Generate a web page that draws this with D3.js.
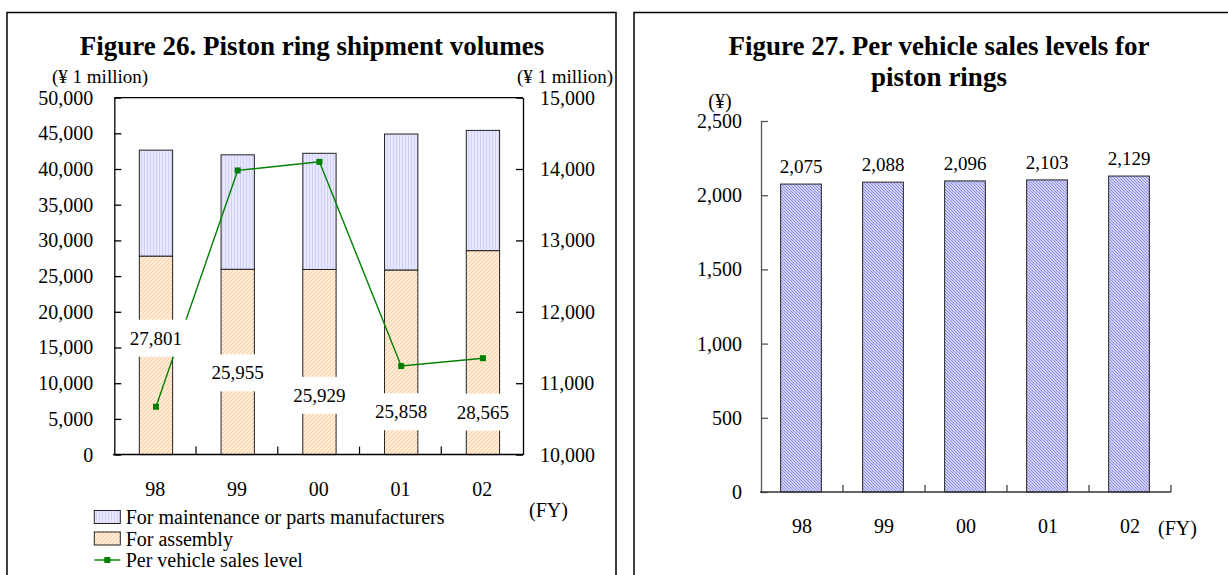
<!DOCTYPE html>
<html>
<head>
<meta charset="utf-8">
<script src="https://cdn.jsdelivr.net/npm/d3@7"></script>
<style>
  body { margin: 0; background: #fff; }
  svg { display: block; }
  text { font-family: "Liberation Serif", "Times New Roman", serif; fill: #000; }
</style>
</head>
<body>
<svg id="chart" width="1228" height="575"></svg>
<script>
// ---- Figure 26 data ----
const years = ["98", "99", "00", "01", "02"];
const assembly = [27801, 25955, 25929, 25858, 28565];
const maintenance = [14840, 16030, 16270, 19040, 16840];
const perVehicleLevel = [10670, 13980, 14100, 11240, 11350];
const leftTicks = [0, 5000, 10000, 15000, 20000, 25000, 30000, 35000, 40000, 45000, 50000];
const rightTicks = [10000, 11000, 12000, 13000, 14000, 15000];
// height (left-axis units) at which each assembly value label sits
const assemblyLabelAt = [16300, 11450, 8300, 6000, 5950];

// ---- Figure 27 data ----
const salesPerVehicle = [2075, 2088, 2096, 2103, 2129];
const salesTicks = [0, 500, 1000, 1500, 2000, 2500];

const fmt = d3.format(",");
const svg = d3.select("#chart");
const FS = 20;      // axis, legend text
const FS_VAL = 19;  // value labels, unit captions
const FS_TITLE = 27;

// ---- fill patterns ----
const defs = svg.append("defs");
const pMaint = defs.append("pattern").attr("id", "pMaint")
  .attr("patternUnits", "userSpaceOnUse").attr("width", 3).attr("height", 3);
pMaint.append("rect").attr("width", 3).attr("height", 3).attr("fill", "#e7e7ff");
pMaint.append("line").attr("x1", 0.5).attr("x2", 0.5).attr("y1", 0).attr("y2", 3)
  .attr("stroke", "#d2d2f6").attr("stroke-width", 1);

const pAsm = defs.append("pattern").attr("id", "pAsm")
  .attr("patternUnits", "userSpaceOnUse").attr("width", 4).attr("height", 4);
pAsm.append("rect").attr("width", 4).attr("height", 4).attr("fill", "#fff3e6");
pAsm.append("path").attr("d", "M0,4L4,0M-1,1L1,-1M3,5L5,3")
  .attr("stroke", "#ffcc99").attr("stroke-width", 1.1);

const pBlue = defs.append("pattern").attr("id", "pBlue")
  .attr("patternUnits", "userSpaceOnUse").attr("width", 3).attr("height", 3);
pBlue.append("rect").attr("width", 3).attr("height", 3).attr("fill", "#eeeeff");
pBlue.append("path").attr("d", "M0,0L3,3M-1,2L1,4M2,-1L4,1")
  .attr("stroke", "#8888e4").attr("stroke-width", 1.1);

// ---- panel frames ----
svg.append("rect").attr("x", 7).attr("y", 12.5).attr("width", 609).attr("height", 620)
  .attr("fill", "none").attr("stroke", "#000").attr("stroke-width", 1.5);
svg.append("rect").attr("x", 634).attr("y", 12.5).attr("width", 700).attr("height", 620)
  .attr("fill", "none").attr("stroke", "#000").attr("stroke-width", 1.5);

// =================== Figure 26 ===================
const L = svg.append("g");
L.append("text").attr("x", 312).attr("y", 55).attr("text-anchor", "middle")
  .attr("font-weight", "bold").attr("font-size", FS_TITLE)
  .text("Figure 26. Piston ring shipment volumes");
L.append("text").attr("x", 52).attr("y", 76).attr("dy", "0.35em").attr("font-size", FS_VAL)
  .text("(\u00A5 1 million)");
L.append("text").attr("x", 613).attr("y", 76).attr("dy", "0.35em").attr("text-anchor", "end")
  .attr("font-size", FS_VAL).text("(\u00A5 1 million)");

const xL = d3.scaleBand().domain(years).range([114.3, 523]);
const yL = d3.scaleLinear().domain([0, 50000]).range([454.6, 97.6]);
const yR = d3.scaleLinear().domain([10000, 15000]).range([454.6, 97.6]);
const barWL = 33.3;
const cxL = d => xL(d) + xL.bandwidth() / 2 + 0.8;

// stacked bars
L.append("g").selectAll("rect").data(years).join("rect")
  .attr("x", d => cxL(d) - barWL / 2).attr("width", barWL)
  .attr("y", (d, i) => yL(assembly[i])).attr("height", (d, i) => yL(0) - yL(assembly[i]))
  .attr("fill", "url(#pAsm)").attr("stroke", "#222").attr("stroke-width", 1);
L.append("g").selectAll("rect").data(years).join("rect")
  .attr("x", d => cxL(d) - barWL / 2).attr("width", barWL)
  .attr("y", (d, i) => yL(assembly[i] + maintenance[i]))
  .attr("height", (d, i) => yL(assembly[i]) - yL(assembly[i] + maintenance[i]))
  .attr("fill", "url(#pMaint)").attr("stroke", "#222").attr("stroke-width", 1);

// axes
const axL = L.append("g").attr("transform", "translate(114.3,0)")
  .call(d3.axisLeft(yL).tickValues(leftTicks).tickFormat(fmt)
    .tickSizeInner(-7).tickSizeOuter(0).tickPadding(21));
const axR = L.append("g").attr("transform", "translate(523,0)")
  .call(d3.axisRight(yR).tickValues(rightTicks).tickFormat(fmt)
    .tickSizeInner(-7).tickSizeOuter(0).tickPadding(17));
[axL, axR].forEach(a => {
  a.attr("font-family", null).attr("font-size", null);
  a.selectAll("text").attr("font-size", FS);
  a.selectAll("path,line").attr("stroke", "#000").attr("stroke-width", 1.3);
});
// top edge of the plot area
L.append("line").attr("x1", 114.3).attr("x2", 523).attr("y1", yL(50000)).attr("y2", yL(50000))
  .attr("stroke", "#000").attr("stroke-width", 1.3);
// category axis
L.append("line").attr("x1", 113).attr("x2", 523).attr("y1", yL(0)).attr("y2", yL(0))
  .attr("stroke", "#000").attr("stroke-width", 1.5);
L.append("g").selectAll("line").data(years.slice(1)).join("line")
  .attr("x1", d => xL(d)).attr("x2", d => xL(d))
  .attr("y1", yL(0)).attr("y2", yL(0) - 8).attr("stroke", "#000").attr("stroke-width", 1.2);
L.append("g").selectAll("text").data(years).join("text")
  .attr("x", d => xL(d) + xL.bandwidth() / 2).attr("y", 489).attr("dy", "0.35em")
  .attr("text-anchor", "middle").attr("font-size", FS).text(d => d);
L.append("text").attr("x", 529).attr("y", 510).attr("dy", "0.35em").attr("font-size", FS).text("(FY)");

// per vehicle sales level line
const line = d3.line().x((v, i) => cxL(years[i])).y(v => yR(v));
L.append("path").datum(perVehicleLevel).attr("d", line)
  .attr("fill", "none").attr("stroke", "#008000").attr("stroke-width", 1.4);
L.append("g").selectAll("rect").data(perVehicleLevel).join("rect")
  .attr("x", (v, i) => cxL(years[i]) - 3).attr("y", v => yR(v) - 3)
  .attr("width", 6).attr("height", 6).attr("fill", "#008000");

// assembly value labels on white boxes
const lab = L.append("g").selectAll("g").data(assembly).join("g");
lab.append("rect").attr("fill", "#fff");
lab.append("text").attr("text-anchor", "middle").attr("dy", "0.35em").attr("font-size", FS_VAL)
  .attr("x", (v, i) => cxL(years[i])).attr("y", (v, i) => yL(assemblyLabelAt[i]))
  .text(v => fmt(v));
lab.each(function () {
  const t = d3.select(this).select("text");
  const w = t.node().getComputedTextLength();
  d3.select(this).select("rect")
    .attr("x", +t.attr("x") - w / 2 - 8).attr("width", w + 16)
    .attr("y", +t.attr("y") - 18.5).attr("height", 37);
});

// legend
const leg = L.append("g");
leg.append("rect").attr("x", 94.3).attr("y", 510.5).attr("width", 26).attr("height", 13)
  .attr("fill", "url(#pMaint)").attr("stroke", "#222");
leg.append("rect").attr("x", 94.3).attr("y", 532).attr("width", 26).attr("height", 13)
  .attr("fill", "url(#pAsm)").attr("stroke", "#222");
leg.append("line").attr("x1", 94.3).attr("x2", 120.3).attr("y1", 560).attr("y2", 560)
  .attr("stroke", "#008000").attr("stroke-width", 1.4);
leg.append("rect").attr("x", 104.3).attr("y", 557).attr("width", 6).attr("height", 6).attr("fill", "#008000");
[["For maintenance or parts manufacturers", 517], ["For assembly", 538.5], ["Per vehicle sales level", 560]]
  .forEach(([t, y]) => leg.append("text").attr("x", 125.7).attr("y", y).attr("dy", "0.35em")
    .attr("font-size", FS).text(t));

// =================== Figure 27 ===================
const R = svg.append("g");
R.append("text").attr("x", 939).attr("y", 55).attr("text-anchor", "middle")
  .attr("font-weight", "bold").attr("font-size", FS_TITLE).text("Figure 27. Per vehicle sales levels for");
R.append("text").attr("x", 939).attr("y", 86).attr("text-anchor", "middle")
  .attr("font-weight", "bold").attr("font-size", FS_TITLE).text("piston rings");
R.append("text").attr("x", 720).attr("y", 101).attr("dy", "0.35em").attr("text-anchor", "middle")
  .attr("font-size", FS).text("(\u00A5)");

const xB = d3.scaleBand().domain(years).range([761, 1171]);
const yB = d3.scaleLinear().domain([0, 2500]).range([492, 121]);
const barWR = 40.7;
const cxR = d => xB(d) + xB.bandwidth() / 2 - 1;

R.append("g").selectAll("rect").data(salesPerVehicle).join("rect")
  .attr("x", (v, i) => cxR(years[i]) - barWR / 2).attr("width", barWR)
  .attr("y", v => yB(v)).attr("height", v => yB(0) - yB(v))
  .attr("fill", "url(#pBlue)").attr("stroke", "#222").attr("stroke-width", 1);
R.append("g").selectAll("text").data(salesPerVehicle).join("text")
  .attr("x", (v, i) => cxR(years[i])).attr("y", v => yB(v) - 18).attr("dy", "0.35em")
  .attr("text-anchor", "middle").attr("font-size", FS_VAL).text(v => fmt(v));

const axB = R.append("g").attr("transform", "translate(761,0)")
  .call(d3.axisLeft(yB).tickValues(salesTicks).tickFormat(fmt)
    .tickSizeInner(-7).tickSizeOuter(0).tickPadding(19));
axB.attr("font-family", null).attr("font-size", null);
axB.selectAll("text").attr("font-size", FS);
axB.selectAll("path,line").attr("stroke", "#555").attr("stroke-width", 1.3);
R.append("line").attr("x1", 760).attr("x2", 1171).attr("y1", yB(0)).attr("y2", yB(0))
  .attr("stroke", "#333").attr("stroke-width", 1.5);
R.append("g").selectAll("line").data(years.slice(1).concat(["end"])).join("line")
  .attr("x1", d => d === "end" ? 1171 : xB(d)).attr("x2", d => d === "end" ? 1171 : xB(d))
  .attr("y1", yB(0)).attr("y2", yB(0) - 7).attr("stroke", "#333").attr("stroke-width", 1.2);
R.append("g").selectAll("text").data(years).join("text")
  .attr("x", d => xB(d) + xB.bandwidth() / 2).attr("y", 526).attr("dy", "0.35em")
  .attr("text-anchor", "middle").attr("font-size", FS).text(d => d);
R.append("text").attr("x", 1158).attr("y", 528).attr("dy", "0.35em").attr("font-size", FS).text("(FY)");
</script>
</body>
</html>
